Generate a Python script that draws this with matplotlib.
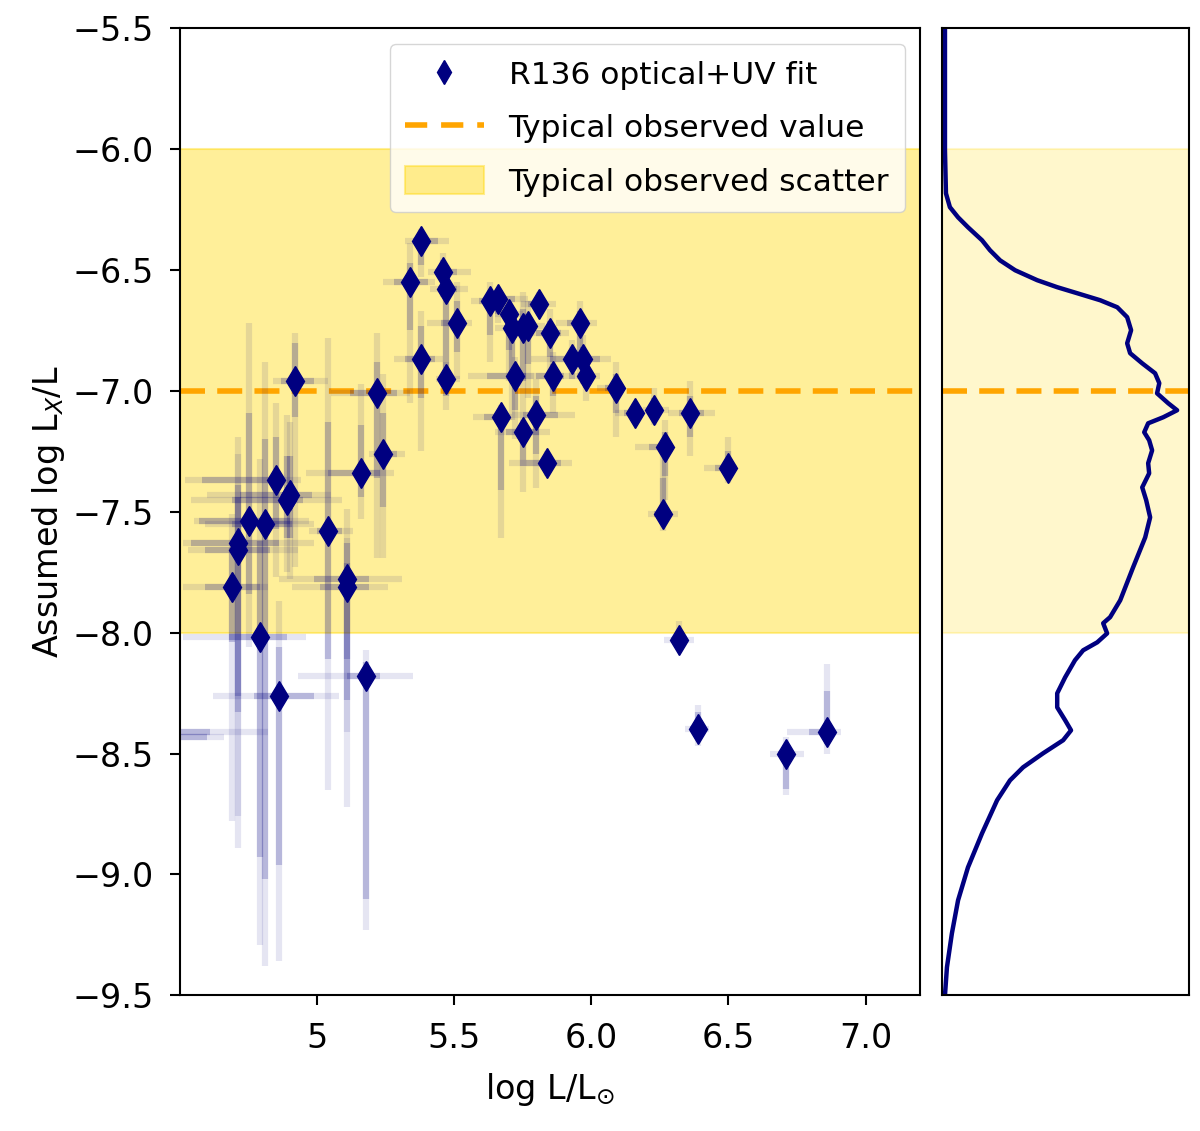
import numpy as np
import matplotlib
matplotlib.use("Agg")
import matplotlib.pyplot as plt
from matplotlib.patches import Patch
from matplotlib.lines import Line2D

plt.rcParams['font.family'] = ['DejaVu Sans']
plt.rcParams['mathtext.fontset'] = 'dejavusans'

# ---- data: log L/Lsun and assumed log Lx/L ----
logL = [5.38, 5.34, 5.38, 5.46, 5.47, 5.51, 5.47, 5.63, 5.66, 5.70,
        5.71, 5.75, 5.77, 5.81, 5.85, 5.96, 5.93, 5.97, 5.98, 5.72,
        5.86, 5.67, 5.80, 5.75, 5.84, 6.09, 6.16, 6.23, 6.27, 6.36,
        6.26, 6.50, 6.32, 6.39, 6.71, 6.86, 4.92, 5.22, 5.24, 5.16,
        4.85, 4.89, 4.90, 4.75, 4.81, 4.71, 4.71, 4.69, 5.04, 5.11,
        5.11, 4.79, 5.18, 4.86, 4.40, 4.42]
logLx = [-6.38, -6.55, -6.87, -6.51, -6.58, -6.72, -6.95, -6.63, -6.62, -6.68,
         -6.74, -6.74, -6.73, -6.64, -6.76, -6.72, -6.87, -6.87, -6.94, -6.94,
         -6.94, -7.11, -7.10, -7.17, -7.30, -6.99, -7.09, -7.08, -7.23, -7.09,
         -7.51, -7.32, -8.03, -8.40, -8.50, -8.41, -6.96, -7.01, -7.26, -7.34,
         -7.37, -7.45, -7.43, -7.54, -7.55, -7.63, -7.66, -7.81, -7.58, -7.78,
         -7.81, -8.02, -8.18, -8.26, -8.41, -8.43]

# outer (2 sigma) error extents
xlo2 = [0.06, 0.10, 0.10, 0.055, 0.06, 0.11, 0.035, 0.07, 0.05, 0.05,
        0.06, 0.05, 0.04, 0.065, 0.08, 0.09, 0.15, 0.05, 0.06, 0.17,
        0.11, 0.10, 0.09, 0.10, 0.14, 0.07, 0.075, 0.04, 0.11, 0.08,
        0.055, 0.09, 0.055, 0.05, 0.06, 0.145, 0.08, 0.17, 0.05, 0.20,
        0.33, 0.35, 0.30, 0.20, 0.22, 0.20, 0.18, 0.18, 0.07, 0.25,
        0.20, 0.28, 0.25, 0.24, 0.10, 0.10]
xhi2 = [0.10, 0.09, 0.08, 0.10, 0.08, 0.055, 0.05, 0.05, 0.11, 0.05,
        0.04, 0.05, 0.06, 0.06, 0.07, 0.06, 0.07, 0.10, 0.05, 0.07,
        0.08, 0.04, 0.14, 0.10, 0.09, 0.03, 0.03, 0.055, 0.02, 0.09,
        0.055, 0.03, 0.055, 0.04, 0.065, 0.05, 0.12, 0.12, 0.08, 0.12,
        0.09, 0.20, 0.15, 0.22, 0.18, 0.28, 0.22, 0.13, 0.09, 0.20,
        0.15, 0.17, 0.17, 0.22, 0.42, 0.24]
ylo2 = [0.15, 0.50, 0.38, 0.10, 0.40, 0.23, 0.13, 0.25, 0.10, 0.28,
        0.38, 0.40, 0.30, 0.05, 0.20, 0.23, 0.08, 0.10, 0.10, 0.26,
        0.15, 0.50, 0.30, 0.25, 0.05, 0.20, 0.04, 0.06, 0.22, 0.18,
        0.07, 0.06, 0.02, 0.07, 0.17, 0.09, 0.77, 0.68, 0.43, 0.19,
        0.40, 0.30, 0.35, 0.52, 1.83, 1.26, 1.10, 0.97, 1.07, 0.94,
        0.60, 1.27, 1.05, 1.10, 0.02, 0.02]
yhi2 = [0.05, 0.16, 0.20, 0.08, 0.10, 0.17, 0.07, 0.08, 0.04, 0.02,
        0.05, 0.15, 0.10, 0.05, 0.10, 0.09, 0.08, 0.10, 0.05, 0.08,
        0.10, 0.05, 0.15, 0.05, 0.05, 0.11, 0.04, 0.09, 0.11, 0.13,
        0.30, 0.13, 0.08, 0.10, 0.07, 0.28, 0.20, 0.25, 0.33, 0.37,
        0.32, 0.35, 0.30, 0.82, 0.67, 0.44, 0.40, 0.30, 0.80, 0.29,
        0.20, 0.74, 0.11, 0.39, 0.02, 0.02]
# inner (1 sigma) error extents
xlo1 = [0.03, 0.06, 0.06, 0.03, 0.03, 0.06, 0.02, 0.04, 0.03, 0.03,
        0.03, 0.03, 0.02, 0.04, 0.05, 0.05, 0.08, 0.03, 0.03, 0.10,
        0.06, 0.06, 0.05, 0.06, 0.08, 0.04, 0.04, 0.02, 0.06, 0.04,
        0.03, 0.05, 0.03, 0.03, 0.03, 0.065, 0.05, 0.10, 0.03, 0.12,
        0.27, 0.20, 0.18, 0.18, 0.12, 0.17, 0.12, 0.10, 0.04, 0.12,
        0.10, 0.11, 0.07, 0.09, 0.06, 0.06]
xhi1 = [0.06, 0.065, 0.05, 0.05, 0.04, 0.03, 0.03, 0.03, 0.06, 0.03,
        0.02, 0.03, 0.03, 0.03, 0.04, 0.03, 0.04, 0.06, 0.03, 0.04,
        0.04, 0.02, 0.08, 0.06, 0.05, 0.02, 0.02, 0.03, 0.01, 0.05,
        0.03, 0.02, 0.03, 0.02, 0.03, 0.02, 0.07, 0.07, 0.05, 0.07,
        0.02, 0.06, 0.08, 0.15, 0.10, 0.15, 0.12, 0.10, 0.05, 0.08,
        0.08, 0.10, 0.05, 0.13, 0.21, 0.18]
ylo1 = [0.10, 0.20, 0.16, 0.05, 0.38, 0.12, 0.07, 0.14, 0.06, 0.15,
        0.20, 0.22, 0.16, 0.03, 0.10, 0.13, 0.04, 0.05, 0.05, 0.14,
        0.08, 0.30, 0.16, 0.14, 0.03, 0.10, 0.02, 0.03, 0.12, 0.10,
        0.04, 0.03, 0.01, 0.04, 0.145, 0.05, 0.15, 0.35, 0.22, 0.10,
        0.20, 0.16, 0.18, 0.30, 1.47, 0.70, 0.60, 0.23, 0.53, 0.50,
        0.30, 0.91, 0.92, 0.70, 0.01, 0.01]
yhi1 = [0.03, 0.08, 0.14, 0.05, 0.05, 0.09, 0.04, 0.04, 0.02, 0.01,
        0.03, 0.08, 0.05, 0.03, 0.05, 0.05, 0.04, 0.05, 0.03, 0.04,
        0.05, 0.03, 0.08, 0.03, 0.03, 0.06, 0.02, 0.05, 0.06, 0.07,
        0.15, 0.07, 0.04, 0.07, 0.04, 0.17, 0.16, 0.13, 0.17, 0.20,
        0.18, 0.18, 0.16, 0.45, 0.35, 0.24, 0.22, 0.16, 0.45, 0.15,
        0.10, 0.40, 0.06, 0.20, 0.01, 0.01]

# ---- density curve of log Lx/L (right panel) ----
kde_y = [-5.5, -6.005, -6.183, -6.240, -6.282, -6.323, -6.377, -6.418, -6.460,
         -6.501, -6.542, -6.571, -6.596, -6.625, -6.654, -6.695, -6.749, -6.803,
         -6.844, -6.886, -6.927, -6.968, -7.010, -7.051, -7.080, -7.109, -7.134,
         -7.171, -7.204, -7.246, -7.299, -7.341, -7.399, -7.452, -7.523, -7.606,
         -7.730, -7.866, -7.936, -7.961, -8.003, -8.040, -8.073, -8.114, -8.185,
         -8.251, -8.309, -8.362, -8.404, -8.445, -8.499, -8.557, -8.611, -8.693,
         -8.830, -8.971, -9.107, -9.244, -9.384, -9.5]
kde_d = [0.012, 0.012, 0.016, 0.032, 0.065, 0.105, 0.162, 0.194, 0.235,
         0.296, 0.385, 0.466, 0.547, 0.640, 0.709, 0.749, 0.765, 0.749,
         0.761, 0.810, 0.862, 0.879, 0.870, 0.915, 0.951, 0.895, 0.834,
         0.818, 0.838, 0.850, 0.834, 0.838, 0.810, 0.826, 0.842, 0.822,
         0.773, 0.721, 0.680, 0.652, 0.668, 0.628, 0.571, 0.538, 0.498,
         0.466, 0.466, 0.498, 0.522, 0.490, 0.409, 0.328, 0.275, 0.223,
         0.162, 0.105, 0.065, 0.040, 0.020, 0.012]

typical_value = -7.0
scatter_lo, scatter_hi = -8.0, -6.0

navy = '#000080'
dash = (4.5, 2.2)
fig = plt.figure(figsize=(12, 11.31), dpi=100)
ax = fig.add_axes([0.15, 0.12, 0.617, 0.855])
ax2 = fig.add_axes([0.785, 0.12, 0.206, 0.855])

ax.axhspan(scatter_lo, scatter_hi, color='gold', alpha=0.4, lw=1.5, zorder=0)
ax.axhline(typical_value, color='orange', ls='--', lw=4, dashes=dash, zorder=1)

x = np.array(logL); y = np.array(logLx)
ax.errorbar(x, y, xerr=[xlo2, xhi2], yerr=[ylo2, yhi2], fmt='none',
            ecolor=navy, alpha=0.1, elinewidth=4.5, capsize=0, zorder=2)
ax.errorbar(x, y, xerr=[xlo1, xhi1], yerr=[ylo1, yhi1], fmt='none',
            ecolor=navy, alpha=0.2, elinewidth=4.5, capsize=0, zorder=2)
ax.plot(x, y, 'd', color=navy, ms=15, ls='none', zorder=3)

ax.set_xlim(4.5, 7.2)
ax.set_ylim(-9.5, -5.5)
ax.set_xticks([5, 5.5, 6.0, 6.5, 7.0])
ax.set_xticklabels(['5', '5.5', '6.0', '6.5', '7.0'])
yt = np.arange(-9.5, -5.49, 0.5)
ax.set_yticks(yt)
ax.set_yticklabels(['\u2212%.1f' % abs(v) for v in yt])
ax.tick_params(labelsize=24, width=1.5, length=7, pad=12)
for s in ax.spines.values():
    s.set_linewidth(1.5)
ax.set_xlabel(r'log L/L$_{\odot}$', fontsize=24, labelpad=12)
ax.set_ylabel(r'Assumed log L$_X$/L', fontsize=24, labelpad=4)

handles = [Line2D([], [], marker='d', color=navy, ls='none', ms=12),
           Line2D([], [], color='orange', ls='--', lw=4, dashes=(4.0, 2.5)),
           Patch(facecolor='gold', alpha=0.4, edgecolor='gold', lw=1.5)]
labels = ['R136 optical+UV fit', 'Typical observed value', 'Typical observed scatter']
ax.legend(handles, labels, loc='upper right', fontsize=22.5, framealpha=0.8,
          handlelength=2.5, handleheight=1.0, borderpad=0.5, labelspacing=0.72,
          handletextpad=0.8)

ax2.axhspan(scatter_lo, scatter_hi, color='gold', alpha=0.2, lw=1.5, zorder=0)
ax2.axhline(typical_value, color='orange', ls='--', lw=4, dashes=dash, zorder=1)
ax2.plot(kde_d, kde_y, color=navy, lw=3.2, zorder=2, solid_joinstyle='round')
ax2.set_xlim(0, 1)
ax2.set_ylim(-9.5, -5.5)
ax2.set_xticks([]); ax2.set_yticks([])
for s in ax2.spines.values():
    s.set_linewidth(1.5)

fig.savefig('out.png', dpi=100)
